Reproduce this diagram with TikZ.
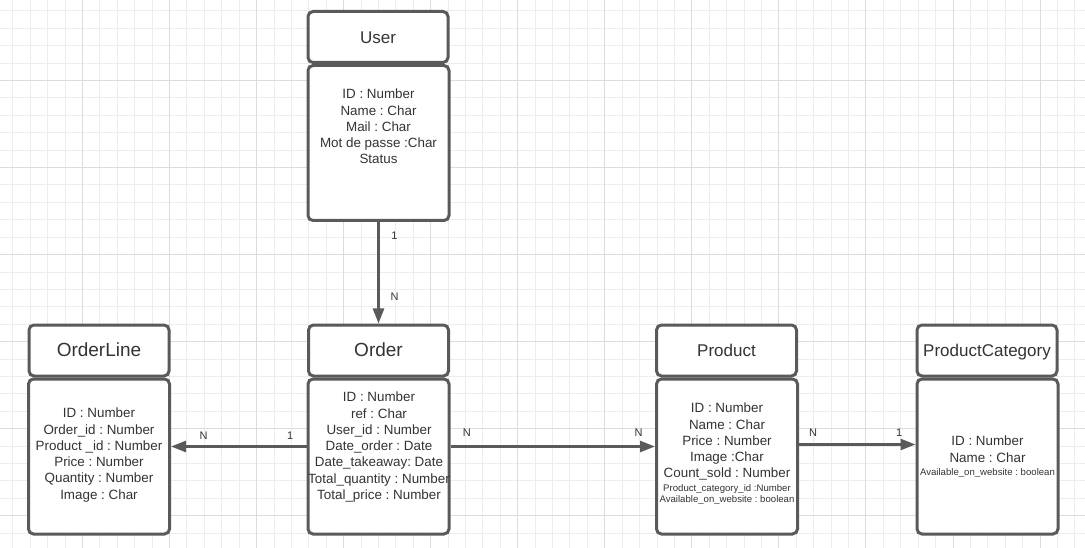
\documentclass[tikz,border=0pt]{standalone}
\usepackage{fontspec}
\setmainfont{Liberation Sans}
\usetikzlibrary{arrows.meta}
\frenchspacing
\tikzset{>={Triangle[length=15pt,width=11pt]}}
\definecolor{boxcol}{HTML}{5A5A5A}
\definecolor{txtcol}{HTML}{333333}
\definecolor{gridmin}{HTML}{EDEDED}
\definecolor{gridmaj}{HTML}{DCDCDC}
\tikzstyle{head}=[draw=boxcol,line width=3pt,rounded corners=5pt,fill=white,
  minimum width=140pt,minimum height=51pt,inner sep=0pt,text=txtcol,
  text height=12.6pt,text depth=0pt]
\tikzstyle{body}=[draw=boxcol,line width=3pt,rounded corners=5pt,fill=white,
  minimum width=141pt,minimum height=155pt]
\tikzstyle{attr}=[text=txtcol,align=center,inner sep=0pt,anchor=north,
  font=\fontsize{13.4}{16.25}\selectfont]
\tikzstyle{attrsmall}=[attr,font=\fontsize{9.6}{10.6}\selectfont]
\tikzstyle{card}=[text=txtcol,inner sep=0pt,font=\fontsize{11}{13}\selectfont,
  text height=8pt,text depth=0pt]
\tikzstyle{link}=[boxcol,line width=2.5pt,->]
\def\ttl{\fontsize{17}{20}\selectfont}
\def\ttlbig{\fontsize{19}{22}\selectfont}

\begin{document}
\begin{tikzpicture}[x=1pt,y=-1pt]
  \def\W{1085}
  \def\H{548}
  \def\g{17.41} % grid step
  \useasboundingbox (0,0) rectangle (\W,\H);
  \clip (0,0) rectangle (\W,\H);

  % GRID
  \fill[white] (0,0) rectangle (\W,\H);
  \foreach \i in {0,...,62}
    \draw[gridmin,line width=1pt] ({12.86+\g*\i},0) -- ++(0,\H);
  \foreach \j in {0,...,31}
    \draw[gridmin,line width=1pt] (0,{10.86+\g*\j}) -- ++(\W,0);
  \foreach \i in {0,...,12}
    \draw[gridmaj,line width=1pt] ({82.5+5*\g*\i},0) -- ++(0,\H);
  \foreach \j in {0,...,5}
    \draw[gridmaj,line width=1pt] (0,{80.5+5*\g*\j}) -- ++(\W,0);

  % USER
  \node[head,font=\ttl] (userhead) at (378,37) {User};
  \node[body] (userbody) at (378.5,143) {};
  \node[attr] (usertxt) at (378.5,89) {ID : Number\\Name : Char\\Mail : Char\\Mot de passe :Char\\Status};

  % ORDERLINE
  \node[head,font=\ttlbig] (olhead) at (99,350.5) {OrderLine};
  \node[body] (olbody) at (99,456.5) {};
  \node[attr] (oltxt) at (99,408) {ID : Number\\Order\_id : Number\\Product \_id : Number\\Price : Number\\Quantity : Number\\Image : Char};

  % ORDER
  \node[head,font=\ttlbig] (orderhead) at (378.5,350.5) {Order};
  \node[body] (orderbody) at (378.5,456.5) {};
  \node[attr] (ordertxt) at (379,392) {ID : Number\\ref : Char\\User\_id : Number\\Date\_order : Date\\Date\_takeaway: Date\\Total\_quantity : Number\\Total\_price : Number};

  % PRODUCT
  \node[head,font=\ttl] (prodhead) at (726.5,350.5) {Product};
  \node[body] (prodbody) at (727,456.5) {};
  \node[attr] (prodtxt) at (727,403) {ID : Number\\Name : Char\\Price : Number\\Image :Char\\Count\_sold : Number};
  \node[attrsmall] (prodsmall) at (727,484.6) {Product\_category\_id :Number\\Available\_on\_website : boolean};

  % PRODUCTCATEGORY
  \node[head,font=\ttl] (cathead) at (987,350.5) {ProductCategory};
  \node[body] (catbody) at (987.5,456.5) {};
  \node[attr] (cattxt) at (987.5,436) {ID : Number\\Name : Char};
  \node[attrsmall] (catsmall) at (987.5,468.5) {Available\_on\_website : boolean};

  % LINKS
  \draw[link] (userbody.south) -- (orderhead.north)
    node[card,pos=0.13,xshift=16pt] (c1) {1}
    node[card,pos=0.73,xshift=16pt] (c2) {N};
  \draw[link] ([yshift=10pt]orderbody.west) -- ([yshift=10pt]olbody.east)
    node[card,pos=0.12,yshift=11pt] (c3) {1}
    node[card,pos=0.76,yshift=11pt] (c4) {N};
  \draw[link] ([yshift=10pt]orderbody.east) -- ([yshift=10pt]prodbody.west)
    node[card,pos=0.08,yshift=14pt] (c5) {N}
    node[card,pos=0.92,yshift=14pt] (c6) {N};
  \draw[link] ([yshift=12pt]prodbody.east) -- ([yshift=12pt]catbody.west)
    node[card,pos=0.12,yshift=12pt] (c7) {N}
    node[card,pos=0.86,yshift=12pt] (c8) {1};

\end{tikzpicture}
\end{document}
